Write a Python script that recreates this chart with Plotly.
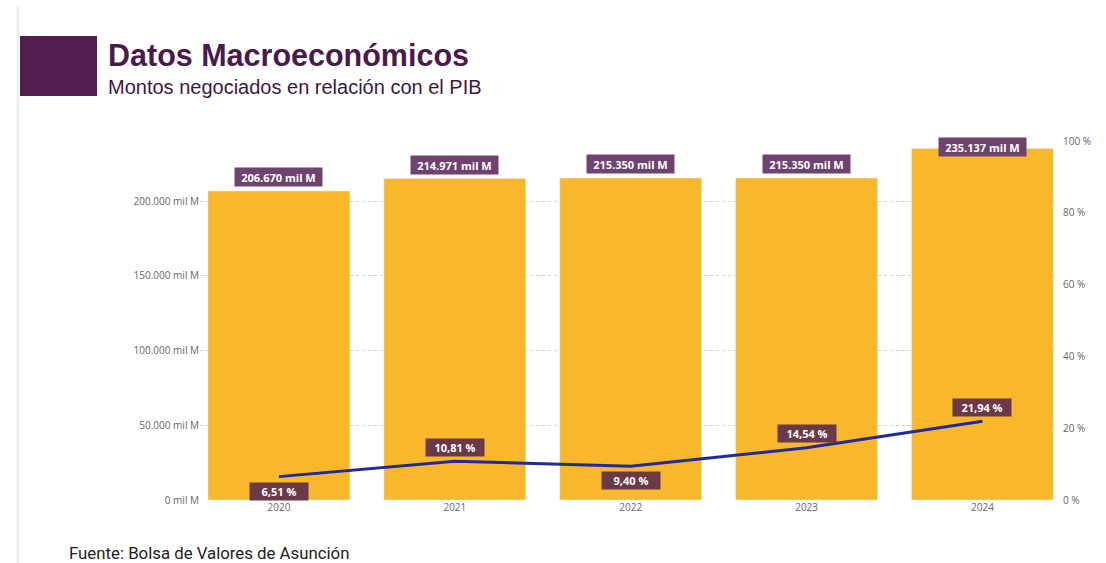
import plotly.graph_objects as go

# Datos
years = ["2020", "2021", "2022", "2023", "2024"]
montos = [206670, 214971, 215350, 215350, 235137]          # millones (mil M)
monto_labels = ["206.670 mil M", "214.971 mil M", "215.350 mil M", "215.350 mil M", "235.137 mil M"]
pct_pib = [6.51, 10.81, 9.40, 14.54, 21.94]                 # % del PIB
pct_labels = ["6,51 %", "10,81 %", "9,40 %", "14,54 %", "21,94 %"]
left_ticks = [0, 50000, 100000, 150000, 200000]
left_ticktext = ["0 mil M", "50.000 mil M", "100.000 mil M", "150.000 mil M", "200.000 mil M"]
right_ticks = [0, 20, 40, 60, 80, 100]
right_ticktext = ["0 %", "20 %", "40 %", "60 %", "80 %", "100 %"]

# Geometría del lienzo (px)
W, H = 1106, 563
PL, PR, PT, PB = 200, 1056, 141, 500
Y1_MAX = 240134
Y2_MAX = 100


def px_x(px):
    return (px - PL) / (PR - PL)


def px_y(py):
    return (PB - py) / (PB - PT)


BAR = "#F9B82B"
LINE = "#1F2A9C"
BAR_TAG = "#6F4370"
LINE_TAG = "#6B3A48"
PURPLE = "#521E50"
TICK = "#666666"

fig = go.Figure()
fig.add_trace(go.Bar(
    x=years, y=montos, marker_color=BAR, width=0.807,
    hoverinfo="skip", showlegend=False,
))
fig.add_trace(go.Scatter(
    x=years, y=pct_pib, yaxis="y2", mode="lines",
    line=dict(color=LINE, width=3), hoverinfo="skip", showlegend=False,
))

ann = []
# Etiquetas de las barras (x por índice de categoría), acotadas al borde superior
for i, (v, t) in enumerate(zip(montos, monto_labels)):
    top_px = PB - v / Y1_MAX * (PB - PT)
    center_px = max(top_px - 14, PT + 6)
    ann.append(dict(
        x=i, xref="x", y=px_y(center_px), yref="paper", yanchor="middle",
        text=f"<b>{t}</b>", showarrow=False, width=81, height=12,
        font=dict(family="Open Sans", size=11, color="white"),
        bgcolor=BAR_TAG, borderpad=3,
    ))

# Etiquetas de la línea: debajo en los mínimos locales, arriba en el resto
for i, (v, t) in enumerate(zip(pct_pib, pct_labels)):
    prev_v = pct_pib[i - 1] if i > 0 else None
    next_v = pct_pib[i + 1] if i < len(pct_pib) - 1 else None
    below = (prev_v is None or v < prev_v) and (next_v is None or v < next_v)
    pt_px = PB - v / Y2_MAX * (PB - PT)
    center_px = pt_px + 14.5 if below else pt_px - 14
    ann.append(dict(
        x=i, xref="x", y=px_y(center_px), yref="paper", yanchor="middle",
        text=f"<b>{t}</b>", showarrow=False, width=52, height=11,
        font=dict(family="Open Sans", size=11, color="white"),
        bgcolor=LINE_TAG, borderpad=3,
    ))

# Encabezado y fuente
ann.append(dict(
    x=px_x(106), y=px_y(55), xref="paper", yref="paper",
    xanchor="left", yanchor="middle", showarrow=False,
    text="<b>Datos Macroeconómicos</b>",
    font=dict(family="Liberation Sans", size=30.5, color="#4A1A4D"),
))
ann.append(dict(
    x=px_x(106), y=px_y(87), xref="paper", yref="paper",
    xanchor="left", yanchor="middle", showarrow=False,
    text="Montos negociados en relación con el PIB",
    font=dict(family="Liberation Sans", size=20, color="#3C1A40"),
))
ann.append(dict(
    x=px_x(67), y=px_y(553), xref="paper", yref="paper",
    xanchor="left", yanchor="middle", showarrow=False,
    text="Fuente: Bolsa de Valores de Asunción",
    font=dict(family="Roboto", size=16.8, color="#222222"),
))

shapes = [
    dict(type="rect", xref="paper", yref="paper",
         x0=px_x(20), x1=px_x(97), y0=px_y(96), y1=px_y(36),
         fillcolor=PURPLE, line=dict(width=0), layer="above"),
    dict(type="line", xref="paper", yref="paper",
         x0=px_x(18), x1=px_x(18), y0=px_y(7), y1=px_y(H),
         line=dict(color="#F0F0F0", width=3)),
]

fig.update_layout(
    width=W, height=H,
    margin=dict(l=PL, r=W - PR, t=PT, b=H - PB),
    paper_bgcolor="white", plot_bgcolor="white",
    showlegend=False,
    annotations=ann, shapes=shapes,
    xaxis=dict(
        type="category", range=[-0.449, 4.418], showgrid=False,
        showline=False, zeroline=False, ticks="",
        tickfont=dict(family="Open Sans", size=10, color=TICK),
    ),
    yaxis=dict(
        range=[0, Y1_MAX], tickvals=left_ticks, ticktext=left_ticktext,
        showgrid=True, gridcolor="#CFCFCF", griddash="dot", gridwidth=1,
        zeroline=False, showline=False, ticks="", ticklabelstandoff=0,
        tickfont=dict(family="Open Sans", size=10, color=TICK),
    ),
    yaxis2=dict(
        range=[0, Y2_MAX], tickvals=right_ticks, ticktext=right_ticktext,
        overlaying="y", side="right", showgrid=False, zeroline=False,
        showline=False, ticks="", ticklabelstandoff=6,
        tickfont=dict(family="Open Sans", size=10, color=TICK),
    ),
)

fig.write_html("out.html")
